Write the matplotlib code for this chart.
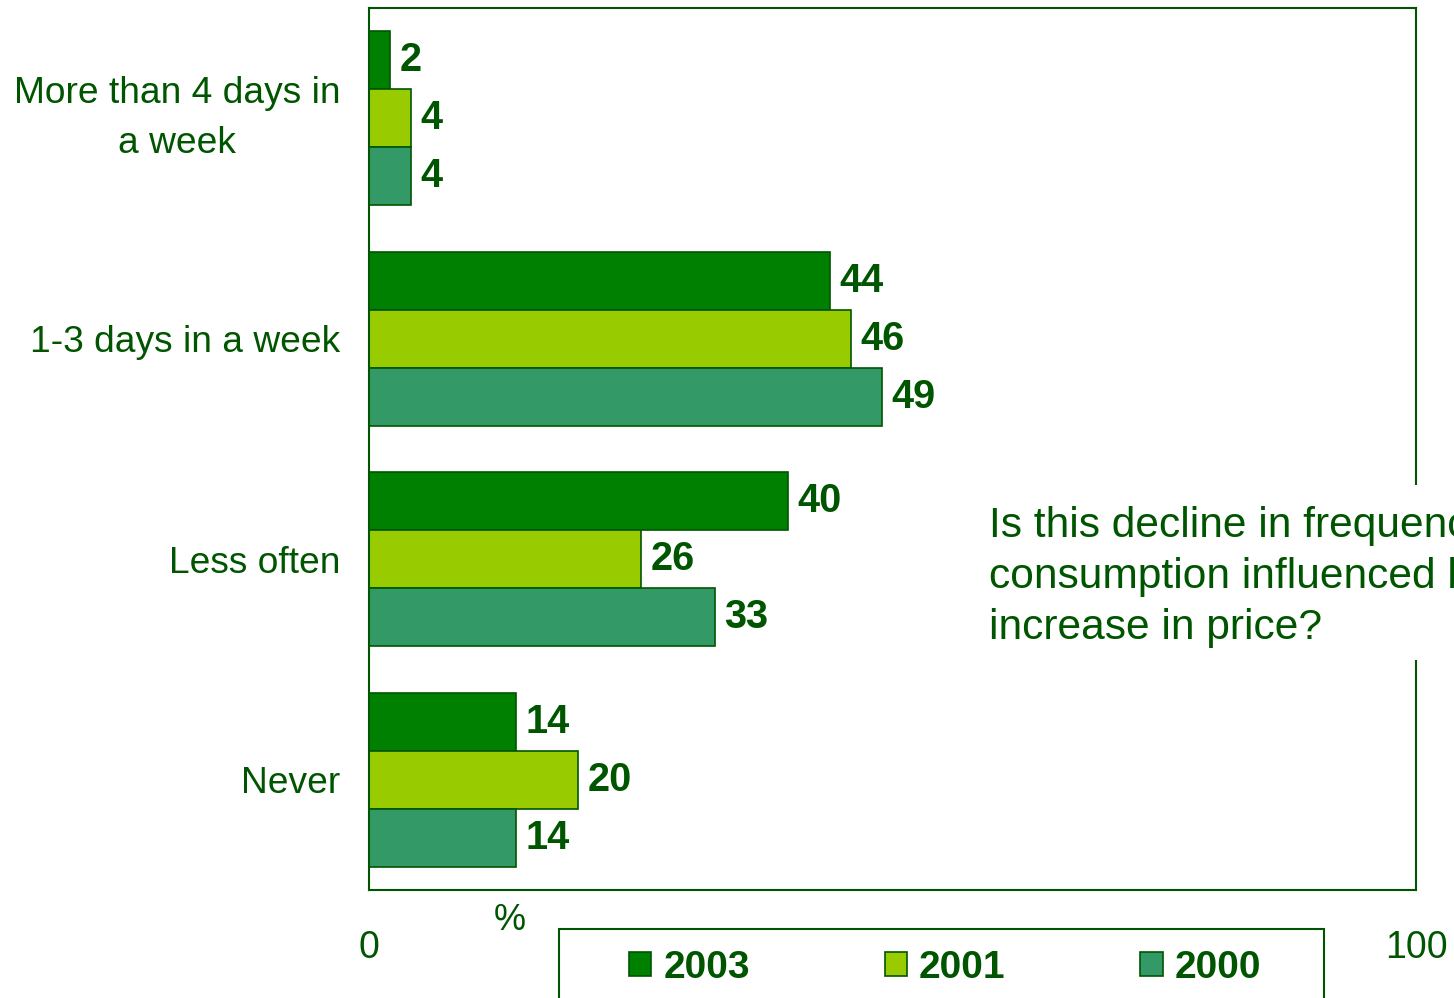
import numpy as np
import matplotlib.pyplot as plt
from matplotlib.patches import Rectangle

plt.rcParams['font.family'] = ['Liberation Sans', 'DejaVu Sans']

categories = ['More than 4 days in\na week', '1-3 days in a week', 'Less often', 'Never']
years = ['2003', '2001', '2000']
values = {
    '2003': [2, 44, 40, 14],
    '2001': [4, 46, 26, 20],
    '2000': [4, 49, 33, 14],
}
colors = {'2003': '#008000', '2001': '#99CC00', '2000': '#339966'}
dark = '#005500'

W, H = 1454, 998
fig = plt.figure(figsize=(W / 100, H / 100), dpi=100)
ax = fig.add_axes([369 / W, 1 - 890 / H, (1416 - 369) / W, (890 - 8) / H])

y = np.arange(len(categories))
h = 58 / 220.5
handles = []
for k, yr in enumerate(years):
    bars = ax.barh(y + (k - 1) * h, values[yr], height=h, color=colors[yr],
                   edgecolor=dark, linewidth=1.2, label=yr)
    handles.append(bars)
    for b, v in zip(bars, values[yr]):
        ax.annotate(str(v), (b.get_width(), b.get_y() + b.get_height() / 2),
                    xytext=(7, 0), textcoords='offset points', va='center', ha='left',
                    fontsize=28.5, fontweight='bold', color=dark)

ax.set_xlim(0, 100)
ax.set_ylim(3.5, -0.5)
ax.set_yticks(y)
ax.set_yticklabels([])
# category labels as plain text, right-aligned next to the axis
for i, cat in enumerate(categories):
    va = 'center' if '\n' in cat else 'center_baseline'
    ax.text(-29 / 1047, i, cat, transform=ax.get_yaxis_transform(),
            ha='right', va=va, multialignment='center', linespacing=1.55,
            fontsize=26.7, color=dark)
ax.set_xticks([0, 100])
ax.set_xticklabels(['0', '100'], fontsize=27, color=dark)
ax.tick_params(axis='y', length=0)
ax.tick_params(axis='x', length=0, pad=29)
for s in ax.spines.values():
    s.set_color(dark)
    s.set_linewidth(1.5)

fig.text(510 / W, 1 - 920 / H, '%', fontsize=26, color=dark, ha='center', va='center')

# white box over the right spine with the question
fig.patches.append(Rectangle((975 / W, 1 - 660 / H), (W - 975) / W, 175 / H,
                             transform=fig.transFigure, facecolor='white',
                             edgecolor='none', zorder=2))
fig.text(989 / W, 1 - 577 / H,
         'Is this decline in frequency of\nconsumption influenced by\nincrease in price?',
         fontsize=30.6, color=dark, ha='left', va='center', linespacing=1.36, zorder=3)

# legend box running off the bottom
fig.patches.append(Rectangle((559 / W, 1 - 1010 / H), (1324 - 559) / W, 81 / H,
                             transform=fig.transFigure, facecolor='white',
                             edgecolor=dark, linewidth=1.5, zorder=2))
leg = fig.legend(handles, years, ncol=3, frameon=False, loc='center left',
                 bbox_to_anchor=(629 / W, 1 - 968 / H), borderpad=0, borderaxespad=0,
                 handlelength=0.57, handleheight=0.57, handletextpad=0.31,
                 columnspacing=3.47, prop={'size': 28, 'weight': 'bold'})
leg.set_zorder(4)
for t in leg.get_texts():
    t.set_color(dark)

fig.savefig('out.png', dpi=100)
